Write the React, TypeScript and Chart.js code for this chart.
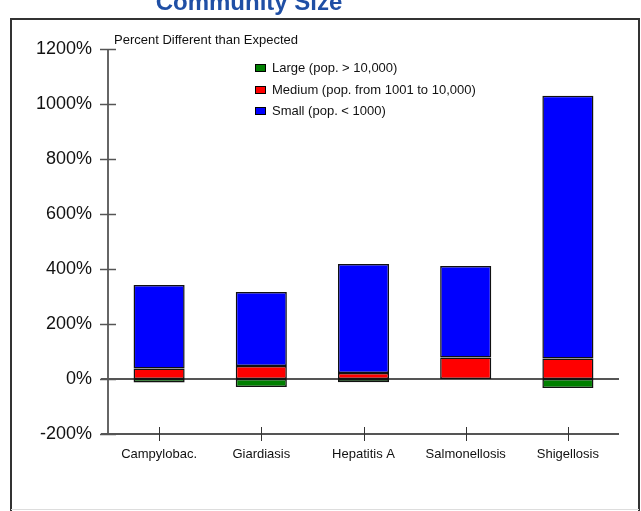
import React, { useEffect, useRef } from "react";
import { Chart, registerables } from "chart.js";

Chart.register(...registerables);

const categories = ["Campylobac.", "Giardiasis", "Hepatitis A", "Salmonellosis", "Shigellosis"];
const largeValues = [-13, -29, -12, 0, -33];
const mediumValues = [38, 47, 22, 78, 75];
const smallValues = [304, 269, 396, 333, 955];
const seriesLabels = ["Large (pop. > 10,000)", "Medium (pop. from 1001 to 10,000)", "Small (pop. < 1000)"];
const seriesColors = ["#008000", "#FF0000", "#0000FF"];
const yTickMin = -200;
const yTickMax = 1200;
const yTickStep = 200;
const titleText = "Community Size";
const axisTitle = "Percent Different than Expected";

const FONT = "'Liberation Sans', Arial, Helvetica, sans-serif";

const decorPlugin = {
  id: "decor",
  beforeDatasetsDraw(chart: any) {
    const ctx = chart.ctx;
    const ca = chart.chartArea;
    const y = chart.scales.y;
    const x = chart.scales.x;
    ctx.save();
    // outer frame
    ctx.strokeStyle = "#333";
    ctx.lineWidth = 2;
    ctx.beginPath();
    ctx.moveTo(11, 512);
    ctx.lineTo(11, 19);
    ctx.lineTo(639, 19);
    ctx.lineTo(639, 512);
    ctx.stroke();
    ctx.strokeStyle = "#ddd";
    ctx.lineWidth = 1;
    ctx.beginPath();
    ctx.moveTo(11, 509.5);
    ctx.lineTo(639, 509.5);
    ctx.stroke();
    // title (partially clipped)
    ctx.fillStyle = "#1F4FA5";
    ctx.font = "bold 24px " + FONT;
    ctx.textAlign = "center";
    ctx.textBaseline = "alphabetic";
    ctx.fillText(titleText, 249, 10);
    // axis title
    ctx.fillStyle = "#111";
    ctx.font = "13px " + FONT;
    ctx.textAlign = "left";
    ctx.textBaseline = "middle";
    ctx.fillText(axisTitle, 114, 40);
    // y axis line
    ctx.strokeStyle = "#333";
    ctx.lineWidth = 1.5;
    ctx.beginPath();
    ctx.moveTo(ca.left, ca.top);
    ctx.lineTo(ca.left, ca.bottom);
    ctx.stroke();
    // y ticks
    ctx.strokeStyle = "#555";
    ctx.lineWidth = 1.5;
    for (let v = yTickMin; v <= yTickMax; v += yTickStep) {
      const py = Math.round(y.getPixelForValue(v)) + 0.5;
      ctx.beginPath();
      ctx.moveTo(ca.left - 8, py);
      ctx.lineTo(ca.left + 8, py);
      ctx.stroke();
    }
    // zero line and x axis line
    ctx.strokeStyle = "#555";
    ctx.lineWidth = 2;
    [0, yTickMin].forEach((v) => {
      const py = Math.round(y.getPixelForValue(v));
      ctx.beginPath();
      ctx.moveTo(ca.left - 7, py);
      ctx.lineTo(ca.right, py);
      ctx.stroke();
    });
    // x ticks
    ctx.strokeStyle = "#333";
    ctx.lineWidth = 1;
    categories.forEach((_, i) => {
      const px = Math.round(x.getPixelForValue(i)) + 0.5;
      ctx.beginPath();
      ctx.moveTo(px, ca.bottom - 7);
      ctx.lineTo(px, ca.bottom + 7);
      ctx.stroke();
    });
    // legend
    const rows = [68, 90, 111];
    ctx.font = "13px " + FONT;
    ctx.textBaseline = "middle";
    seriesLabels.forEach((lab, i) => {
      ctx.fillStyle = seriesColors[i];
      ctx.fillRect(255, rows[i] - 3.5, 11, 7);
      ctx.strokeStyle = "#000";
      ctx.lineWidth = 1;
      ctx.strokeRect(255.5, rows[i] - 3.5, 10, 7);
      ctx.fillStyle = "#111";
      ctx.fillText(lab, 272, rows[i]);
    });
    ctx.restore();
  },
};

export default function App() {
  const ref = useRef<HTMLCanvasElement | null>(null);
  useEffect(() => {
    if (!ref.current) return;
    const chart = new Chart(ref.current, {
      type: "bar",
      data: {
        labels: categories,
        datasets: [largeValues, mediumValues, smallValues].map((d, i) => ({
          label: seriesLabels[i],
          data: d,
          backgroundColor: seriesColors[i],
          borderColor: "#111",
          borderWidth: 1.5,
          borderSkipped: false,
          barPercentage: 0.5,
          categoryPercentage: 1,
        })),
      },
      options: {
        animation: false,
        responsive: false,
        devicePixelRatio: 1,
        layout: { padding: { left: 0, right: 22, top: 49, bottom: 37 } },
        plugins: {
          legend: { display: false },
          title: { display: false },
          tooltip: { enabled: false },
        },
        scales: {
          x: {
            stacked: true,
            offset: true,
            grid: { display: false, drawTicks: false },
            border: { display: false },
            ticks: { color: "#111", font: { family: FONT, size: 13 }, padding: 13, maxRotation: 0 },
            afterFit: (s: any) => {
              s.height = 40;
            },
          },
          y: {
            stacked: true,
            min: yTickMin,
            max: yTickMax,
            grid: { display: false, drawTicks: false },
            border: { display: false },
            ticks: {
              stepSize: yTickStep,
              color: "#111",
              font: { family: FONT, size: 18 },
              padding: 16,
              callback: (v: any) => v + "%",
            },
            afterFit: (s: any) => {
              s.width = 108;
            },
          },
        },
      },
      plugins: [decorPlugin],
    });
    return () => chart.destroy();
  }, []);
  return (
    <div style={{ position: "absolute", left: 0, top: 0, width: 641, height: 511, background: "#fff" }}>
      <canvas ref={ref} width={641} height={511} style={{ width: 641, height: 511, display: "block" }} />
    </div>
  );
}
